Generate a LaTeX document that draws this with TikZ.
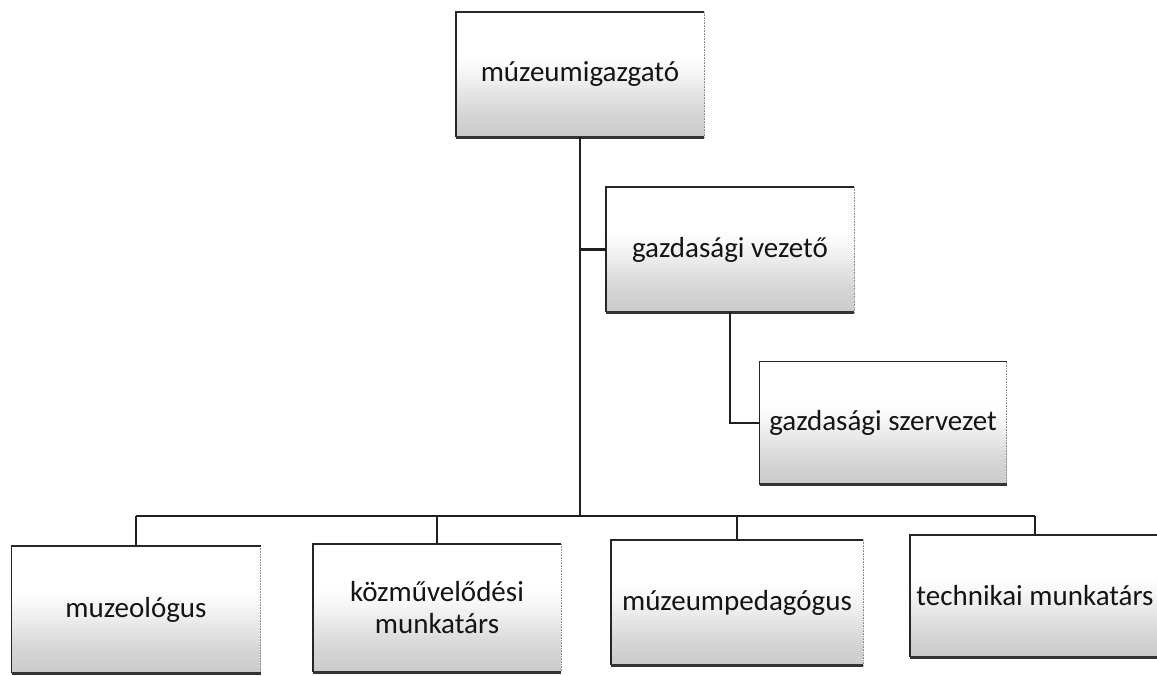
\documentclass[tikz,border=0pt]{standalone}
\usepackage{fontspec}
\setmainfont{Carlito}
\pgfdeclareverticalshading{boxshade}{100bp}{color(0bp)=(black!30); color(12bp)=(black!26); color(35bp)=(black!16); color(52bp)=(black!3); color(58bp)=(white); color(100bp)=(white)}
\begin{document}
\begin{tikzpicture}[x=1pt,y=-1pt,
  orgbox/.style={shading=boxshade, inner sep=0pt, outer sep=0pt,
    font=\fontsize{29}{32}\selectfont, align=center, text=black!92},
  conn/.style={line width=2.3pt, black!88}]
\useasboundingbox (0,0) rectangle (1157,675);
\fill[white] (0,0) rectangle (1157,675);
% nodes
\node[orgbox, minimum width=248pt, minimum height=125pt] (dir) at (580,74.5) {múzeumigazgató};
\node[orgbox, minimum width=248pt, minimum height=125pt] (gv) at (730,249.5) {gazdasági vezető};
\node[orgbox, minimum width=247pt, minimum height=123pt] (gsz) at (883,423) {gazdasági szervezet};
\node[orgbox, minimum width=249pt, minimum height=127pt] (muz) at (136,609.5) {muzeológus};
\node[orgbox, minimum width=248pt, minimum height=128pt] (koz) at (437,608) {közművelődési\\munkatárs};
\node[orgbox, minimum width=252pt, minimum height=125pt] (mp) at (737,602.5) {múzeumpedagógus};
\node[orgbox, minimum width=250pt, minimum height=122pt] (tech) at (1035,596) {technikai munkatárs};
% box borders
\foreach \n in {dir,gv,gsz,muz,koz,mp,tech}{
  \draw[black!45, line width=0.6pt, densely dotted] (\n.north east) -- (\n.south east);
  \draw[black!85, line width=1.6pt] (\n.north east) -- (\n.north west) -- (\n.south west);
  \draw[black!80, line width=3pt] (\n.south west) -- (\n.south east);
}
% connectors
\coordinate (bus) at (580,516);
\draw[conn] (dir.south) -- (bus);
\draw[conn] (dir.south |- gv.west) -- (gv.west);
\draw[conn] (gv.south) |- (gsz.west);
\draw[conn] (muz.north |- bus) -- (tech.north |- bus);
\foreach \n in {muz,koz,mp,tech}{
  \draw[conn] (\n.north |- bus) -- (\n.north);
}
\end{tikzpicture}
\end{document}
